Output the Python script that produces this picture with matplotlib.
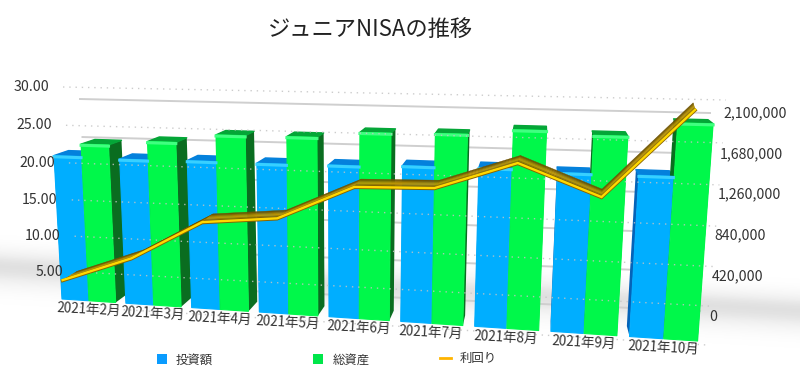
import matplotlib
matplotlib.use("Agg")
import matplotlib.pyplot as plt
import numpy as np
from matplotlib.patches import Polygon, Rectangle

plt.rcParams["font.family"] = ["Noto Sans CJK JP", "DejaVu Sans"]

months = ["2021年2月", "2021年3月", "2021年4月", "2021年5月", "2021年6月",
          "2021年7月", "2021年8月", "2021年9月", "2021年10月"]
invested = [1545000, 1533000, 1541000, 1539000, 1547000, 1565000, 1572000, 1550000, 1550000]
total = [1674000, 1722000, 1810000, 1814000, 1875000, 1885000, 1940000, 1907000, 2040000]
yields = [5.1, 8.6, 13.9, 14.8, 19.2, 19.4, 22.8, 19.0, 29.6]
yield_ticks = [5, 10, 15, 20, 25, 30]
amount_ticks = [0, 420000, 840000, 1260000, 1680000, 2100000]

BLUE, BLUE_SIDE, BLUE_TOP, BLUE_EDGE = "#00aeff", "#0563b8", "#0481dc", "#38d0ff"
GREEN, GREEN_SIDE, GREEN_TOP, GREEN_EDGE = "#00f84a", "#0a6d20", "#04a637", "#40ff80"
TEXT = "#333333"
YMAX, AMAX = 30.0, 2100000.0
N = len(months)
PITCH, BAR_W = 0.1132, 0.047
BAR_VP = np.array([540.0, -10.0])
LINE_VP = np.array([620.0, -472.0])
LINE_T = np.array([0.027, 0.012])


def homography(corners):
    # unit square -> picture plane, corners order (0,0) (1,0) (1,1) (0,1)
    src = [(0, 0), (1, 0), (1, 1), (0, 1)]
    A, b = [], []
    for (u, v), (x, y) in zip(src, corners):
        A.append([u, v, 1, 0, 0, 0, -u * x, -v * x])
        A.append([0, 0, 0, u, v, 1, -u * y, -v * y])
        b += [x, y]
    return np.append(np.linalg.solve(np.array(A, float), np.array(b, float)), 1).reshape(3, 3)


def apply(H, u, v):
    p = H @ np.array([u, v, 1.0])
    return p[:2] / p[2]


def depth(p, vp, t):
    return p + t * (vp - p)


H_bar = homography([(62, 299), (697, 341), (713, 117), (51, 102)])
H_grid = homography([(80, 307), (707, 345), (726, 100), (63, 87)])
H_wall = homography([(92, 284), (700, 311), (710, 113), (80, 99)])

fig = plt.figure(figsize=(8, 3.82), dpi=100)
ax = fig.add_axes([0, 0, 1, 1])

# soft floor shadow
xx, yy = np.meshgrid(np.arange(800), np.arange(382))
yc = 266 + 0.055 * xx
shade = np.where(yy < yc, np.exp(-((yy - yc) / 16.0) ** 2), np.exp(-((yy - yc) / 19.0) ** 2))
ax.imshow(shade, cmap="Greys", vmin=0, vmax=4.8, extent=(0, 800, 382, 0), aspect="auto", zorder=0)
ax.set_xlim(0, 800)
ax.set_ylim(382, 0)
ax.axis("off")

# bar axis gridlines at the back wall
for a in amount_ticks:
    p0, p1 = apply(H_wall, 0, a / AMAX), apply(H_wall, 1, a / AMAX)
    ax.plot([p0[0], p1[0]], [p0[1], p1[1]], color="#cfcfcf", lw=1.4, zorder=1)


def draw_bar(u0, val, front, side, top, edge):
    v = val / AMAX
    bl, br = apply(H_bar, u0, 0), apply(H_bar, u0 + BAR_W, 0)
    tr, tl = apply(H_bar, u0 + BAR_W, v), apply(H_bar, u0, v)
    bk = [depth(p, BAR_VP, 0.03) for p in (bl, br, tr, tl)]
    ax.add_patch(Polygon([br, tr, bk[2], bk[1]], fc=side, ec="none", zorder=2))
    ax.add_patch(Polygon([bl, tl, bk[3], bk[0]], fc=side, ec="none", zorder=2))
    ax.add_patch(Polygon([tl, tr, bk[2], bk[3]], fc=top, ec=top, lw=1, joinstyle="round", zorder=2))
    ax.add_patch(Polygon([bl, br, tr, tl], fc=front, ec=front, lw=0.8, joinstyle="round", zorder=3))
    ax.plot([tl[0], tr[0]], [tl[1] + 1.2, tr[1] + 1.2], color=edge, lw=2.2, zorder=3.1)


for i in range(N):
    draw_bar(i * PITCH, invested[i], BLUE, BLUE_SIDE, BLUE_TOP, BLUE_EDGE)
    draw_bar(i * PITCH + BAR_W + 0.0012, total[i], GREEN, GREEN_SIDE, GREEN_TOP, GREEN_EDGE)

# yield axis dotted gridlines, drawn over the bars
for y in [0] + yield_ticks:
    p0, p1 = apply(H_grid, 0, y / YMAX), apply(H_grid, 1, y / YMAX)
    ax.plot([p0[0], p1[0]], [p0[1], p1[1]], color="#c4c4c4", lw=1.0, ls=(0, (1, 3.5)), alpha=0.85, zorder=4)

# yield line as a ribbon: back edge sits on the grid plane
us = np.arange(N) * 0.1195
back = np.array([apply(H_grid, u, y / YMAX) for u, y in zip(us, yields)])
line_pts = np.array([depth(p, LINE_VP, -LINE_T) for p in back])
steps = np.linspace(0, 1, 8)
ramp = np.array([0.0, 0.3, 0.6, 1.0, 0.8, 0.45, 0.1])
dark, light = np.array([0.40, 0.30, 0.0]), np.array([0.74, 0.59, 0.02])
for i in range(N - 1):
    for s0, s1, r in zip(steps[:-1], steps[1:], ramp):
        a = line_pts[i:i + 2] + s0 * (back[i:i + 2] - line_pts[i:i + 2])
        b = line_pts[i:i + 2] + s1 * (back[i:i + 2] - line_pts[i:i + 2])
        col = dark * (1 - r) + light * r
        ax.add_patch(Polygon([a[0], a[1], b[1], b[0]], fc=col, ec=col, lw=0.3, zorder=5))
ax.plot(line_pts[:, 0], line_pts[:, 1] + 0.5, color="#8a6400", lw=2.4, zorder=6, solid_joinstyle="miter")
ax.plot(line_pts[:, 0], line_pts[:, 1], color="#ffd800", lw=1.7, zorder=7, solid_joinstyle="miter")

# axis labels
for y in yield_ticks:
    p = apply(H_grid, 0, y / YMAX)
    ax.text(p[0] - 14, p[1], f"{y:.2f}", ha="right", va="center", fontsize=10.2, color=TEXT, zorder=8)
for a in amount_ticks:
    f = a / AMAX
    ax.text(709 + 14 * f, 317 - 204 * f, f"{a:,}", ha="left", va="center", fontsize=10.2, color=TEXT, zorder=8)
for i, m in enumerate(months):
    p = apply(H_bar, i * PITCH + BAR_W, 0)
    ax.text(p[0], p[1] + 9, m, ha="center", va="center", rotation=-3, rotation_mode="anchor",
            fontsize=9.7, color=TEXT, zorder=8)

ax.text(370, 29, "ジュニアNISAの推移", ha="center", va="center", fontsize=16, color="#222222")

# legend
ax.add_patch(Rectangle((157, 354), 10, 10, fc="#0a9cff", ec="none"))
ax.text(176, 360, "投資額", va="center", fontsize=8.9, color=TEXT)
ax.add_patch(Rectangle((313, 354), 10, 10, fc="#00e64a", ec="none"))
ax.text(333, 360, "総資産", va="center", fontsize=8.9, color=TEXT)
ax.plot([440, 451], [358, 358], color="#ffb400", lw=2)
ax.text(460, 358, "利回り", va="center", fontsize=8.9, color=TEXT)

fig.savefig("out.png", dpi=100)
